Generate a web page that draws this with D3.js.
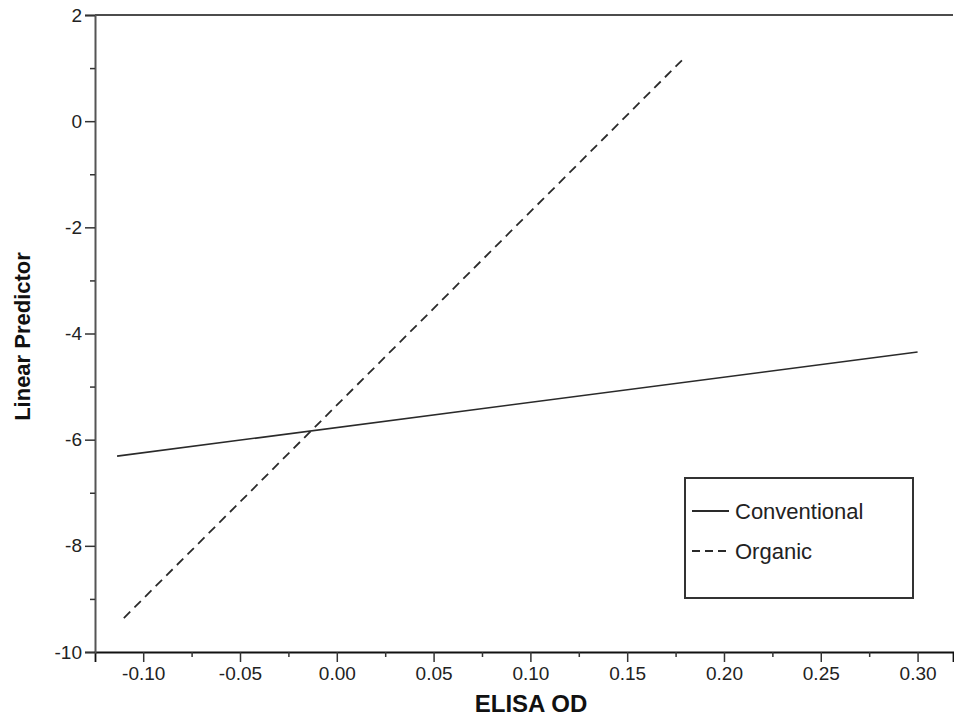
<!DOCTYPE html>
<html>
<head>
<meta charset="utf-8">
<script src="https://cdn.jsdelivr.net/npm/d3@7"></script>
<style>
  body { margin: 0; background: #fff; }
  svg { display: block; }
  text { font-family: "Liberation Sans", Arial, sans-serif; }
</style>
</head>
<body>
<svg id="chart" width="954" height="717"></svg>
<script>
// ---- data ----
const seriesNames = ["Conventional", "Organic"];
const conventionalX = [-0.1135, 0.300];
const conventionalY = [-6.31, -4.35];
const organicX = [-0.110, 0.180];
const organicY = [-9.36, 1.21];
const xTickValues = [-0.10, -0.05, 0.00, 0.05, 0.10, 0.15, 0.20, 0.25, 0.30];
const xMinorTickValues = [-0.075, -0.025, 0.025, 0.075, 0.125, 0.175, 0.225, 0.275];
const yTickValues = [2, 0, -2, -4, -6, -8, -10];
const yMinorTickValues = [1, -1, -3, -5, -7, -9];
const xTitle = "ELISA OD";
const yTitle = "Linear Predictor";

// ---- layout ----
const svg = d3.select("#chart");
const pLeft = 95, pRight = 953, pTop = 15, pBottom = 652;

const x = d3.scaleLinear().domain([-0.1249, 0.3183]).range([pLeft, pRight]);
const y = d3.scaleLinear().domain([-10, 2]).range([pBottom, pTop]);
const hyph = f => d => f(d).replace("\u2212", "-");

// top border
svg.append("line").attr("x1", pLeft).attr("x2", pRight).attr("y1", pTop).attr("y2", pTop)
  .attr("stroke", "#111").attr("stroke-width", 1.6);

// x axis
const xAxis = svg.append("g").attr("transform", `translate(0,${pBottom})`)
  .call(d3.axisBottom(x).tickValues(xTickValues).tickSize(10).tickPadding(5).tickFormat(hyph(d3.format(".2f"))));
xAxis.select(".domain").attr("stroke", "#111").attr("stroke-width", 1.8);
xAxis.selectAll(".tick line").attr("stroke", "#333").attr("stroke-width", 1.5);
xAxis.selectAll(".tick text").attr("font-size", 19).attr("fill", "#222");
const xMinor = svg.append("g").attr("transform", `translate(0,${pBottom})`)
  .call(d3.axisBottom(x).tickValues(xMinorTickValues).tickSize(5).tickFormat(""));
xMinor.select(".domain").remove();
xMinor.selectAll(".tick line").attr("stroke", "#333").attr("stroke-width", 1.5);

// y axis
const yAxis = svg.append("g").attr("transform", `translate(${pLeft},0)`)
  .call(d3.axisLeft(y).tickValues(yTickValues).tickSize(10).tickPadding(3).tickFormat(hyph(d3.format("d"))));
yAxis.select(".domain").attr("stroke", "#555").attr("stroke-width", 2);
yAxis.selectAll(".tick line").attr("stroke", "#333").attr("stroke-width", 1.5);
yAxis.selectAll(".tick text").attr("font-size", 19).attr("fill", "#222");
const yMinor = svg.append("g").attr("transform", `translate(${pLeft},0)`)
  .call(d3.axisLeft(y).tickValues(yMinorTickValues).tickSize(5).tickFormat(""));
yMinor.select(".domain").remove();
yMinor.selectAll(".tick line").attr("stroke", "#333").attr("stroke-width", 1.5);

// lines
const lineGen = d3.line().x(d => x(d[0])).y(d => y(d[1]));
const convPts = conventionalX.map((v, i) => [v, conventionalY[i]]);
const orgPts = organicX.map((v, i) => [v, organicY[i]]);
svg.append("path").datum(convPts).attr("d", lineGen)
  .attr("fill", "none").attr("stroke", "#2a2a2a").attr("stroke-width", 1.6);
svg.append("path").datum(orgPts).attr("d", lineGen)
  .attr("fill", "none").attr("stroke", "#2a2a2a").attr("stroke-width", 1.8)
  .attr("stroke-dasharray", "9,6");

// titles
svg.append("text").attr("x", 531).attr("y", 712)
  .attr("text-anchor", "middle").attr("font-size", 24).attr("font-weight", "bold").attr("fill", "#111")
  .text(xTitle);
svg.append("text").attr("transform", `translate(30,${(pTop + pBottom) / 2 + 3}) rotate(-90)`)
  .attr("text-anchor", "middle").attr("font-size", 22).attr("font-weight", "bold").attr("fill", "#111")
  .text(yTitle);

// legend
const lg = svg.append("g");
lg.append("rect").attr("x", 685).attr("y", 478).attr("width", 228).attr("height", 120)
  .attr("fill", "#fff").attr("stroke", "#333").attr("stroke-width", 2);
const legendStyles = [null, "8,5"];
seriesNames.forEach((name, i) => {
  const ly = 511 + i * 40;
  lg.append("line").attr("x1", 692).attr("x2", 729).attr("y1", ly).attr("y2", ly)
    .attr("stroke", "#2a2a2a").attr("stroke-width", 2)
    .attr("stroke-dasharray", legendStyles[i]);
  lg.append("text").attr("x", 735).attr("y", ly + 8).attr("font-size", 22).attr("fill", "#222")
    .text(name);
});
</script>
</body>
</html>
